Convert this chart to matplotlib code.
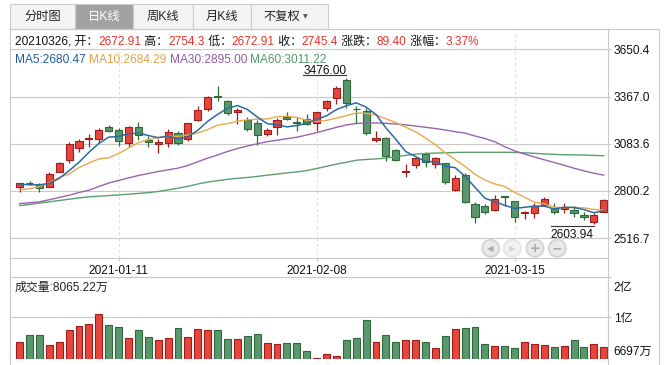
import matplotlib
matplotlib.use('Agg')
import matplotlib.pyplot as plt
from matplotlib.patches import Rectangle, Ellipse
from matplotlib.lines import Line2D
from matplotlib.transforms import offset_copy

plt.rcParams['font.family'] = ['Liberation Sans', 'Noto Sans CJK SC', 'DejaVu Sans']

# trading days shown
dates = ['2020-12-25', '2020-12-28', '2020-12-29', '2020-12-30', '2020-12-31',
         '2021-01-04', '2021-01-05', '2021-01-06', '2021-01-07', '2021-01-08',
         '2021-01-11', '2021-01-12', '2021-01-13', '2021-01-14', '2021-01-15',
         '2021-01-18', '2021-01-19', '2021-01-20', '2021-01-21', '2021-01-22',
         '2021-01-25', '2021-01-26', '2021-01-27', '2021-01-28', '2021-01-29',
         '2021-02-01', '2021-02-02', '2021-02-03', '2021-02-04', '2021-02-05',
         '2021-02-08', '2021-02-09', '2021-02-10', '2021-02-18', '2021-02-19',
         '2021-02-22', '2021-02-23', '2021-02-24', '2021-02-25', '2021-02-26',
         '2021-03-01', '2021-03-02', '2021-03-03', '2021-03-04', '2021-03-05',
         '2021-03-08', '2021-03-09', '2021-03-10', '2021-03-11', '2021-03-12',
         '2021-03-15', '2021-03-16', '2021-03-17', '2021-03-18', '2021-03-19',
         '2021-03-22', '2021-03-23', '2021-03-24', '2021-03-25', '2021-03-26']

opens = [2821.8, 2850, 2839.8, 2825.4, 2911.9, 2985.8, 3056, 3112, 3110, 3182,
         3164, 3086, 3182, 3106, 3080, 3086, 3146, 3110, 3224, 3290,
         3370, 3338, 3276, 3224, 3206, 3140, 3182, 3246, 3212, 3230,
         3206, 3296, 3356, 3468, 3294, 3282, 3104, 3116, 3046, 2916,
         2958, 3020, 2960, 2966, 2808, 2896, 2722, 2710, 2688, 2772,
         2740, 2666, 2670, 2716, 2700, 2690, 2686, 2657, 2615, 2672.91]
highs = [2849.4, 2861.4, 2845.9, 2911.9, 2973.8, 3095.6, 3110, 3142, 3176, 3196,
         3176, 3190, 3214, 3128, 3110, 3170, 3158, 3208, 3310, 3370,
         3430, 3346, 3296, 3246, 3224, 3176, 3236, 3276, 3242, 3260,
         3276, 3348, 3430, 3476.0, 3310, 3296, 3158, 3124, 3050, 2964,
         2996, 3032, 3004, 2966, 2896, 2906, 2736, 2722, 2774, 2772,
         2740, 2682, 2726, 2765, 2730, 2730, 2711, 2672, 2668, 2754.3]
lows = [2795.4, 2837.5, 2795.4, 2823, 2911.9, 2966, 3032, 3062, 3086, 3152,
        3068, 3062, 3104, 3062, 3026, 3062, 3074, 3098, 3220, 3282,
        3338, 3254, 3202, 3162, 3078, 3128, 3134, 3224, 3158, 3196,
        3162, 3282, 3320, 3300, 3202, 3138, 3092, 2978, 2980, 2886,
        2936, 2942, 2940, 2843, 2801, 2726, 2609, 2662, 2681, 2712,
        2612, 2630, 2636, 2710, 2662, 2669, 2642, 2625, 2603.94, 2672.91]
closes = [2845.9, 2848, 2815.8, 2899.9, 2966, 3080, 3098, 3116, 3164, 3158,
          3098, 3182, 3134, 3092, 3092, 3152, 3086, 3206, 3284, 3362,
          3362, 3266, 3288, 3170, 3134, 3164, 3226, 3230, 3210, 3202,
          3276, 3338, 3416, 3326, 3290, 3146, 3118, 3012, 2984, 2922,
          2996, 2972, 3000, 2854, 2876, 2736, 2642, 2674, 2750, 2764,
          2645, 2676, 2710, 2750, 2675, 2700, 2670, 2645, 2656, 2745.4]
# volume in 万
volumes = [7986, 8550, 8550, 7744, 7986, 8953, 9275, 9436, 10242, 9356,
           9194, 8308, 8953, 8389, 8147, 8308, 9114, 8389, 9033, 8953,
           8953, 8228, 8228, 8469, 8630, 7905, 7825, 7905, 7905, 7261,
           6697, 7019, 6858, 8147, 8308, 9758, 7986, 8550, 7986, 8147,
           8147, 7986, 7503, 8469, 9033, 9114, 9194, 7825, 7664, 7664,
           7503, 7986, 7825, 7744, 7583, 7664, 8147, 7583, 7825, 7583]

ma5 = [2839.9, 2837.5, 2835.7, 2845.9, 2875.1, 2921.9, 2971.9, 3032.0, 3084.8, 3123.2,
       3126.8, 3143.6, 3147.2, 3132.8, 3119.6, 3130.4, 3111.2, 3125.6, 3164.0, 3218.0,
       3260.0, 3296.0, 3312.4, 3289.6, 3244.0, 3204.4, 3196.4, 3184.8, 3192.8, 3206.4,
       3228.8, 3251.2, 3288.4, 3311.6, 3329.2, 3303.2, 3259.2, 3178.4, 3110.0, 3036.4,
       3006.4, 2977.2, 2974.8, 2948.8, 2939.6, 2887.6, 2821.6, 2756.4, 2735.6, 2713.2,
       2695.0, 2701.8, 2709.0, 2709.0, 2691.2, 2702.2, 2701.0, 2688.0, 2669.2, 2680.47]
ma10 = [2807.4, 2813.4, 2826.6, 2850.7, 2880.7, 2901.7, 2940.7, 2967.7, 2991.8, 2999.2,
        3024.4, 3057.8, 3089.6, 3108.8, 3121.4, 3128.6, 3127.4, 3136.4, 3148.4, 3168.8,
        3195.2, 3203.6, 3219.0, 3226.8, 3231.0, 3232.2, 3246.2, 3248.6, 3241.2, 3225.2,
        3216.6, 3223.8, 3236.6, 3252.2, 3267.8, 3266.0, 3255.2, 3233.4, 3210.8, 3182.8,
        3154.8, 3118.2, 3076.6, 3029.4, 2988.0, 2947.0, 2899.4, 2865.6, 2842.2, 2826.4,
        2791.3, 2761.7, 2732.7, 2722.3, 2702.2, 2698.6, 2701.4, 2698.5, 2689.1, 2684.29]
ma30 = [2724.0, 2729.4, 2734.8, 2747.4, 2760.6, 2774.4, 2790.6, 2804.4, 2826.1, 2847.7,
        2862.7, 2878.3, 2892.7, 2904.7, 2916.7, 2926.9, 2937.1, 2952.7, 2975.0, 2997.2,
        3015.8, 3036.8, 3054.8, 3069.8, 3083.0, 3095.6, 3104.6, 3113.6, 3122.7, 3135.9,
        3150.3, 3165.9, 3182.1, 3195.9, 3205.5, 3207.9, 3207.9, 3206.1, 3201.9, 3196.5,
        3189.9, 3182.1, 3174.9, 3165.9, 3155.7, 3147.3, 3129.9, 3114.8, 3095.0, 3065.6,
        3040.4, 3021.8, 3003.8, 2987.0, 2970.7, 2953.9, 2936.5, 2920.9, 2906.5, 2895.00]
ma60 = [2712.0, 2719.2, 2727.0, 2734.8, 2742.6, 2750.4, 2758.2, 2764.8, 2768.4, 2772.0,
        2776.2, 2780.4, 2785.2, 2790.0, 2796.6, 2806.2, 2816.4, 2827.9, 2841.7, 2853.7,
        2861.5, 2869.9, 2875.9, 2880.7, 2887.3, 2894.5, 2901.1, 2908.3, 2914.3, 2922.7,
        2934.7, 2947.9, 2960.5, 2972.0, 2984.6, 2988.8, 2992.4, 2997.2, 3005.0, 3013.4,
        3020.6, 3024.8, 3027.2, 3029.0, 3030.8, 3032.0, 3032.0, 3032.0, 3032.0, 3032.0,
        3031.4, 3029.0, 3026.0, 3022.4, 3019.4, 3017.6, 3016.4, 3015.2, 3013.4, 3011.22]

price_ticks = [3650.4, 3367.0, 3083.6, 2800.2, 2516.7]
date_ticks = ['2021-01-11', '2021-02-08', '2021-03-15']
tabs = ['分时图', '日K线', '周K线', '月K线', '不复权']

RED, RED_EDGE = '#e5463c', '#9e1c1c'
GREEN, GREEN_EDGE = '#5b976e', '#2c6a38'
GRID = '#c9c9c9'
TXT_RED = '#e8332c'
FS = 8.6

W, H = 666, 365
fig = plt.figure(figsize=(W / 100, H / 100), dpi=100)


def box(l, t, r, b):
    return [l / W, 1 - b / H, (r - l) / W, (b - t) / H]


def fline(x1, y1, x2, y2, color=GRID):
    fig.add_artist(Line2D([x1 / W, x2 / W], [1 - y1 / H, 1 - y2 / H],
                          transform=fig.transFigure, color=color, lw=0.8))


ax = fig.add_axes(box(10, 29.3, 608, 258.3))
axv = fig.add_axes(box(10, 277.3, 608, 358.5))

x = list(range(len(dates)))
up = [c >= o for o, c in zip(opens, closes)]
fill = [RED if u else GREEN for u in up]
edge = [RED_EDGE if u else GREEN_EDGE for u in up]

# candles
ax.vlines(x, lows, highs, colors=edge, lw=0.9, zorder=2)
ax.bar(x, [abs(c - o) for o, c in zip(opens, closes)],
       bottom=[min(o, c) for o, c in zip(opens, closes)],
       width=0.72, color=fill, edgecolor=edge, linewidth=0.8, zorder=2.5)

ax.plot(x, ma60, color='#5a9f6c', lw=1, zorder=3)
ax.plot(x, ma30, color='#9b62b4', lw=1, zorder=3)
ax.plot(x, ma10, color='#eaa849', lw=1, zorder=3)
ax.plot(x, ma5, color='#2d69a3', lw=1.1, zorder=3)

ax.set_xlim(-0.97, 59.43)
ax.set_ylim(2395.6, 3770.5)
ax.yaxis.tick_right()
ax.set_yticks(price_ticks)
ax.set_yticklabels([f'{t:.1f}' for t in price_ticks])
ax.set_xticks([dates.index(d) for d in date_ticks])
ax.set_xticklabels(date_ticks)
ax.tick_params(axis='y', length=2.5, pad=1.5, color=GRID, labelsize=FS, labelcolor='#111')
ax.tick_params(axis='x', length=2.5, pad=2.0, color=GRID, labelsize=FS, labelcolor='#111')
ax.grid(axis='y', color=GRID, lw=0.8)
ax.grid(axis='x', color='#dedede', lw=0.7, linestyle=(0, (3, 3)))
ax.set_axisbelow(True)
for s in ax.spines.values():
    s.set_color(GRID)
    s.set_linewidth(0.8)

# high / low markers
r = fig.canvas.get_renderer()
hi_i = highs.index(max(highs))
lo_i = lows.index(min(lows))
px_per_x = 598 / (59.43 + 0.97)
t = ax.text(hi_i, highs[hi_i], f'{max(highs):.2f}', ha='right', va='baseline', fontsize=FS,
            color='#111', transform=offset_copy(ax.transData, fig, y=4.5, units='dots'))
w = t.get_window_extent(r).width / px_per_x
ax.plot([hi_i - w, hi_i], [highs[hi_i]] * 2, color='#333', lw=0.8,
        transform=offset_copy(ax.transData, fig, y=3.2, units='dots'))
t = ax.text(lo_i, lows[lo_i], f'{min(lows):.2f}', ha='right', va='baseline', fontsize=FS,
            color='#111', transform=offset_copy(ax.transData, fig, y=-14, units='dots'))
w = t.get_window_extent(r).width / px_per_x
ax.plot([lo_i - w, lo_i], [lows[lo_i]] * 2, color='#333', lw=0.8,
        transform=offset_copy(ax.transData, fig, y=-2.4, units='dots'))

# volume
axv.bar(x, volumes, width=0.7, color=fill, edgecolor=edge, linewidth=0.8)
axv.set_xlim(ax.get_xlim())
vtop = 13238
axv.set_ylim(6633, vtop)
axv.yaxis.tick_right()
axv.set_yticks([vtop, 10000])
axv.set_yticklabels(['', '1亿'])
axv.set_xticks([])
axv.tick_params(axis='y', length=2.5, pad=1.5, color=GRID, labelsize=FS, labelcolor='#111')
axv.grid(axis='y', color=GRID, lw=0.8)
axv.set_axisbelow(True)
for s in axv.spines.values():
    s.set_color(GRID)
    s.set_linewidth(0.8)
axv.spines['bottom'].set_visible(False)
axv.text(1.009, 0.87, '2亿', transform=axv.transAxes, fontsize=FS, color='#111', va='center')
axv.text(1.009, 0.08, f'{min(volumes)}万', transform=axv.transAxes, fontsize=FS,
         color='#111', va='center')
fig.text(15 / W, 1 - 291 / H, '成交量:8065.22万', fontsize=FS, color='#222', va='baseline')

# frame lines
fline(10, 29.3, 659.3, 29.3)
fline(659.3, 29.3, 659.3, 365)
fline(608, 258.3, 608, 365)
fline(10, 258.3, 10, 365)

# tabs
edges_x = [10, 75, 133, 193, 251, 328]
for k, name in enumerate(tabs):
    l, rr = edges_x[k], edges_x[k + 1]
    active = name == '日K线'
    fig.add_artist(Rectangle((l / W, 1 - 29.3 / H), (rr - l) / W, 25.3 / H,
                             transform=fig.transFigure,
                             facecolor='#a2a2a2' if active else '#f4f4f4',
                             edgecolor='#cdcdcd', lw=0.8))
    cx = (l + rr) / 2 - (8 if name == '不复权' else 0)
    fig.text(cx / W, 1 - 17 / H, name, ha='center', va='center', fontsize=FS + 0.2,
             color='white' if active else '#222')
fig.text(305 / W, 1 - 17 / H, '▼', ha='center', va='center', fontsize=4.5,
         color='#555', family='DejaVu Sans')


def rich(x0, y0, parts):
    for s, c in parts:
        tt = fig.text(x0 / W, 1 - y0 / H, s, color=c, fontsize=FS, va='baseline')
        x0 += tt.get_window_extent(r).width


rich(15, 45, [(f'{dates[-1].replace("-", "")}, 开：', '#111'), (str(opens[-1]), TXT_RED),
              (' 高：', '#111'), (str(highs[-1]), TXT_RED),
              (' 低：', '#111'), (str(lows[-1]), TXT_RED),
              (' 收：', '#111'), (str(closes[-1]), TXT_RED),
              (' 涨跌：', '#111'), (f'{closes[-1] - closes[-2]:.2f}', TXT_RED),
              (' 涨幅：', '#111'), (f'{(closes[-1] / closes[-2] - 1) * 100:.2f}%', TXT_RED)])
rich(15, 62.7, [(f'MA5:{ma5[-1]:.2f} ', '#1f5d9c'), (f'MA10:{ma10[-1]:.2f} ', '#e6a04a'),
                (f'MA30:{ma30[-1]:.2f} ', '#8f58aa'), (f'MA60:{ma60[-1]:.2f}', '#4f9a66')])

# navigation buttons
for k, (cx, g) in enumerate(zip([490.7, 512.3, 535, 557.3], ['◀', '▶', '+', '−'])):
    dis = k == 1
    fig.add_artist(Ellipse((cx / W, 1 - 248.3 / H), 19 / W, 19 / H, transform=fig.transFigure,
                           facecolor='#e6e6e6' if dis else '#d5d5d5', edgecolor='none'))
    fig.add_artist(Ellipse((cx / W, 1 - 248.3 / H), 15 / W, 15 / H, transform=fig.transFigure,
                           facecolor='#f2f2f2' if dis else '#e9e9e9', edgecolor='none'))
    fig.text(cx / W, 1 - 248.6 / H, g, ha='center', va='center', family='DejaVu Sans',
             fontsize=6 if k < 2 else 9, fontweight='bold',
             color='#d6d6d6' if dis else '#a9a9a9')

fig.savefig('out.png', dpi=100)
